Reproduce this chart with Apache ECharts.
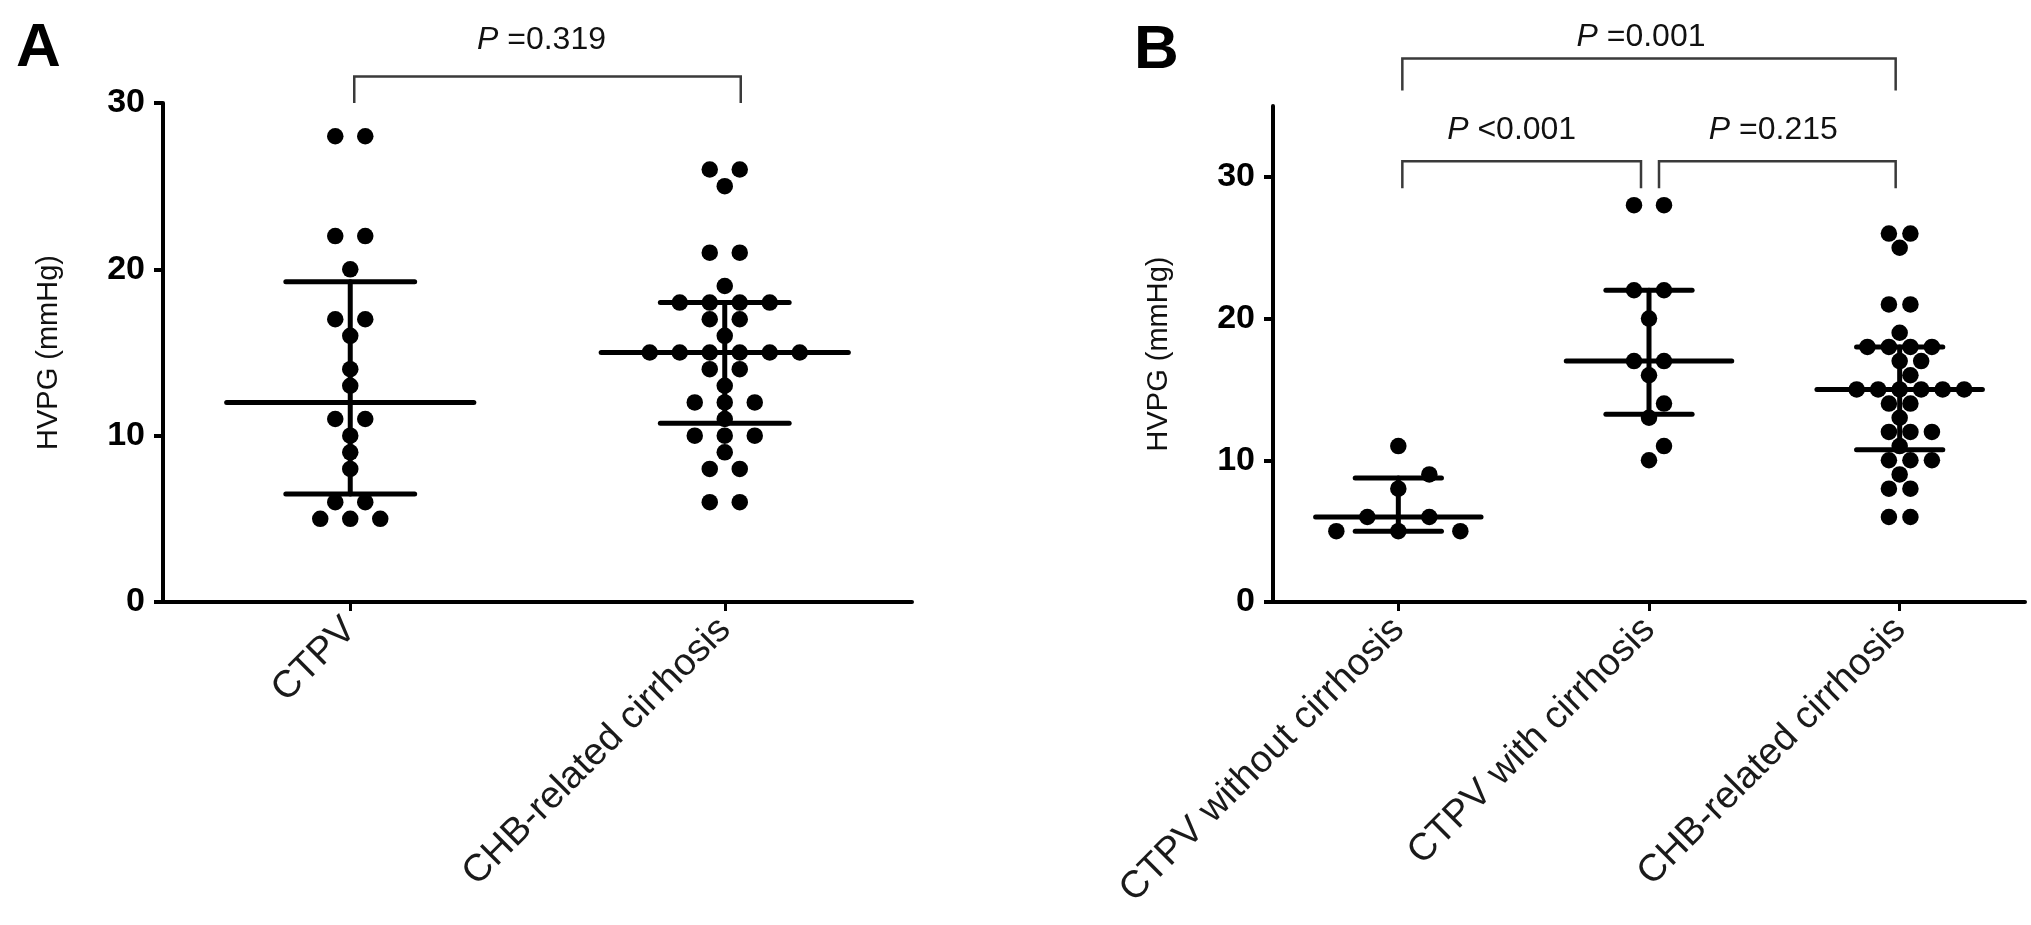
<!DOCTYPE html>
<html><head><meta charset="utf-8">
<script src="https://cdn.jsdelivr.net/npm/echarts@6/dist/echarts.min.js"></script>
<style>html,body{margin:0;padding:0;background:#fff}#c{width:2031px;height:925px}</style>
</head><body><div id="c"></div>
<script>
// ---------------- data ----------------
const categoriesA = ['CTPV', 'CHB-related cirrhosis'];
const ctpvA = [28,28,22,22,20,17,17,16,14,13,11,11,10,9,8,6,6,5,5,5];
const chbA  = [26,26,25,21,21,19,18,18,18,18,17,17,16,15,15,15,15,15,15,14,14,13,12,12,12,11,10,10,10,9,8,8,6,6];

const categoriesB = ['CTPV without cirrhosis', 'CTPV with cirrhosis', 'CHB-related cirrhosis'];
const ctpvNoCirrB = [11,9,8,6,6,5,5,5];
const ctpvCirrB   = [28,28,22,22,20,17,17,16,14,13,11,10];
const chbB        = [26,26,25,21,21,19,18,18,18,18,17,17,16,15,15,15,15,15,15,14,14,13,12,12,12,11,10,10,10,9,8,8,6,6];

const yTicksA = [0, 10, 20, 30];
const yTicksB = [0, 10, 20, 30];
const pTextA = ['=0.319'];
const pTextB = ['=0.001', '<0.001', '=0.215'];

// ---------------- layout / style ----------------
const FONT = '"Liberation Sans", Arial, Helvetica, sans-serif';
const gridA = {left: 163, top: 103, width: 749, height: 499};
const gridB = {left: 1273, top: 106, width: 752, height: 496};
const yMaxA = 30, yMaxB = 35;
const DOT = 16.5;
const spreadA = [30, 30];
const spreadB = [62, 30, 21.5];
// brackets: [fromCat, toCat, barValue, endValue, labelIdx, insetLeftPx, insetRightPx, labelLiftPx, labelShiftPx]
const bracketsA = [[0, 1, 31.6, 30, 0, 4, -16, 36, -6]];
const bracketsB = [[0, 2, 38.35, 36.1, 0, 4, 4, 21, -8],
                   [0, 1, 31.1, 29.2, 1, 4, 8, 31, -10],
                   [1, 2, 31.1, 29.2, 2, 10, 4, 31, -4]];

// ---------------- helpers ----------------
function quant(sorted, p) {
  const n = sorted.length;
  const pos = p * (n + 1);
  if (pos <= 1) return sorted[0];
  if (pos >= n) return sorted[n - 1];
  const lo = Math.floor(pos), f = pos - lo;
  return sorted[lo - 1] + f * (sorted[lo] - sorted[lo - 1]);
}
function summary(vals) {
  const s = vals.slice().sort((a, b) => a - b);
  return [quant(s, 0.5), quant(s, 0.25), quant(s, 0.75)];
}
// beeswarm: rows of equal values spread symmetrically, shifted to avoid overlaps
function swarm(vals, spacing, pxPerUnit, minDist) {
  const uniq = Array.from(new Set(vals)).sort((a, b) => a - b);
  const placed = [];
  const out = [];
  uniq.forEach(v => {
    const n = vals.filter(x => x === v).length;
    const cands = [0];
    for (let k = 1; k < 20; k++) { cands.push(k * spacing / 2, -k * spacing / 2); }
    for (const c of cands) {
      const xs = [];
      for (let i = 0; i < n; i++) xs.push(c + (i - (n - 1) / 2) * spacing);
      const ok = xs.every(x => placed.every(p => {
        const dx = x - p[0], dy = (v - p[1]) * pxPerUnit;
        return Math.sqrt(dx * dx + dy * dy) >= minDist;
      }));
      if (ok) { xs.forEach(x => { placed.push([x, v]); out.push([v, x]); }); break; }
    }
  });
  return out;
}
function dotData(groups, spreads, pxPerUnit) {
  const d = [];
  groups.forEach((vals, ci) => {
    swarm(vals, spreads[ci], pxPerUnit, 16).forEach(([v, dx]) => {
      d.push({value: [ci, v], symbolOffset: [dx, 0]});
    });
  });
  return d;
}
function summaryRender(params, api) {
  const ci = api.value(0);
  const pm = api.coord([ci, api.value(1)]);
  const y1 = api.coord([ci, api.value(2)])[1];
  const y3 = api.coord([ci, api.value(3)])[1];
  const band = api.size([1, 0])[0];
  const wm = band * 0.33, wc = band * 0.172;
  const st = {stroke: '#000', lineWidth: 5, lineCap: 'round'};
  return {type: 'group', children: [
    {type: 'line', shape: {x1: pm[0] - wm, y1: pm[1], x2: pm[0] + wm, y2: pm[1]}, style: st},
    {type: 'line', shape: {x1: pm[0], y1: y1, x2: pm[0], y2: y3}, style: st},
    {type: 'line', shape: {x1: pm[0] - wc, y1: y1, x2: pm[0] + wc, y2: y1}, style: st},
    {type: 'line', shape: {x1: pm[0] - wc, y1: y3, x2: pm[0] + wc, y2: y3}, style: st}
  ]};
}
function bracketRender(texts) {
  return function (params, api) {
    const a = api.coord([api.value(0), api.value(2)]);
    const b = api.coord([api.value(1), api.value(2)]);
    const yEnd = api.coord([api.value(0), api.value(3)])[1];
    const xl = a[0] + api.value(5), xr = b[0] - api.value(6);
    const st = {stroke: '#3a3a3a', lineWidth: 2.5, fill: null};
    return {type: 'group', children: [
      {type: 'polyline', shape: {points: [[xl, yEnd], [xl, a[1]], [xr, a[1]], [xr, yEnd]]}, style: st},
      {type: 'text', style: {
        x: (xl + xr) / 2 + api.value(8), y: a[1] - api.value(7),
        text: '{i|P} ' + texts[api.value(4)],
        align: 'center', verticalAlign: 'middle',
        fill: '#111', fontSize: 32, fontFamily: FONT,
        rich: {i: {fontStyle: 'italic', fontSize: 32, fontFamily: FONT, fill: '#111'}}
      }}
    ]};
  };
}
function xAxisCfg(cats, gi) {
  return {
    type: 'category', gridIndex: gi, data: cats, boundaryGap: true,
    axisLine: {lineStyle: {color: '#000', width: 4}},
    axisTick: {show: true, alignWithLabel: true, length: 9, lineStyle: {color: '#000', width: 3}},
    axisLabel: {rotate: 45, interval: 0, margin: 22, fontSize: 38, color: '#1a1a1a', fontFamily: FONT},
    splitLine: {show: false}
  };
}
function yAxisCfg(gi, max, ticks) {
  return {
    type: 'value', gridIndex: gi, min: 0, max: max,
    name: 'HVPG (mmHg)', nameLocation: 'middle', nameRotate: 90, nameGap: 100,
    nameTextStyle: {fontSize: 29, color: '#111', fontFamily: FONT},
    axisLine: {show: true, lineStyle: {color: '#000', width: 4}},
    axisTick: {show: true, length: 9, customValues: ticks, lineStyle: {color: '#000', width: 4}},
    axisLabel: {customValues: ticks, fontSize: 34, fontWeight: 'bold', color: '#000', margin: 18, fontFamily: FONT},
    splitLine: {show: false}
  };
}

const pxA = gridA.height / yMaxA, pxB = gridB.height / yMaxB;
const groupsA = [ctpvA, chbA];
const groupsB = [ctpvNoCirrB, ctpvCirrB, chbB];

const option = {
  backgroundColor: '#fff',
  animation: false,
  grid: [gridA, gridB],
  xAxis: [xAxisCfg(categoriesA, 0), xAxisCfg(categoriesB, 1)],
  yAxis: [yAxisCfg(0, yMaxA, yTicksA), yAxisCfg(1, yMaxB, yTicksB)],
  graphic: [
    {type: 'text', left: 16, top: 18, style: {text: 'A', fontSize: 62, fontWeight: 'bold', fill: '#000', fontFamily: FONT}},
    {type: 'text', left: 1134, top: 20, style: {text: 'B', fontSize: 62, fontWeight: 'bold', fill: '#000', fontFamily: FONT}}
  ],
  series: [
    {type: 'custom', xAxisIndex: 0, yAxisIndex: 0, renderItem: summaryRender, z: 2,
     data: groupsA.map((g, i) => [i].concat(summary(g)))},
    {type: 'custom', xAxisIndex: 1, yAxisIndex: 1, renderItem: summaryRender, z: 2,
     data: groupsB.map((g, i) => [i].concat(summary(g)))},
    {type: 'scatter', xAxisIndex: 0, yAxisIndex: 0, symbol: 'circle', symbolSize: DOT, z: 3,
     itemStyle: {color: '#000', opacity: 1}, data: dotData(groupsA, spreadA, pxA)},
    {type: 'scatter', xAxisIndex: 1, yAxisIndex: 1, symbol: 'circle', symbolSize: DOT, z: 3,
     itemStyle: {color: '#000', opacity: 1}, data: dotData(groupsB, spreadB, pxB)},
    {type: 'custom', xAxisIndex: 0, yAxisIndex: 0, clip: false, renderItem: bracketRender(pTextA), data: bracketsA},
    {type: 'custom', xAxisIndex: 1, yAxisIndex: 1, clip: false, renderItem: bracketRender(pTextB), data: bracketsB}
  ]
};
const chart = echarts.init(document.getElementById('c'), null, {renderer: 'canvas'});
chart.setOption(option);
</script></body></html>
